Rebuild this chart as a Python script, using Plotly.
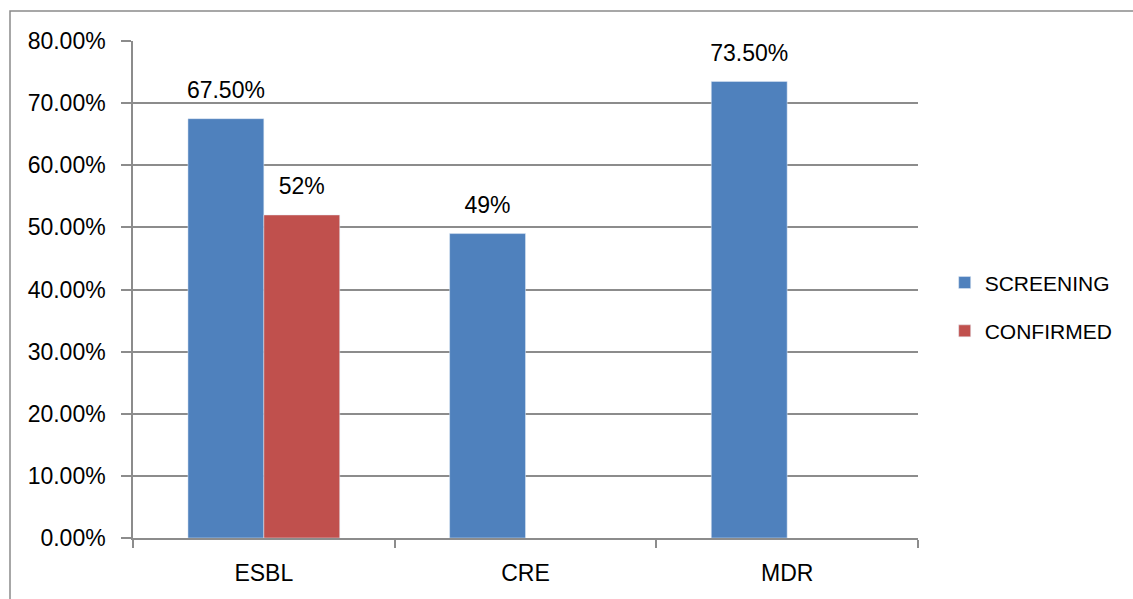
import plotly.graph_objects as go

# Resistance categories and percentages per test stage
categories = ["ESBL", "CRE", "MDR"]
screening = [0.675, 0.49, 0.735]
confirmed = [0.52, None, None]
screening_labels = ["67.50%", "49%", "73.50%"]
confirmed_labels = ["52%", "", ""]
y_ticks = [0, 0.1, 0.2, 0.3, 0.4, 0.5, 0.6, 0.7, 0.8]

BLUE = "#4F81BD"
RED = "#C0504D"
GRID = "#8c8c8c"
FONT = "Liberation Sans"
FS = 23

W, H = 1133, 599
L, R, T, B = 133, 215, 41, 61
PW, PH = W - L - R, H - T - B

fig = go.Figure()

fig.add_trace(go.Bar(
    x=categories, y=screening, name="SCREENING",
    marker=dict(color=BLUE), offsetgroup="s", legendgroup="s",
))
fig.add_trace(go.Bar(
    x=categories, y=confirmed, name="CONFIRMED",
    marker=dict(color=RED), offsetgroup="c", legendgroup="c",
))

# value labels, grouped like the bars
for vals, labels, grp in ((screening, screening_labels, "s"), (confirmed, confirmed_labels, "c")):
    fig.add_trace(go.Scatter(
        x=categories, y=vals, text=labels, mode="markers+text",
        textposition="top center", marker=dict(size=22, opacity=0),
        textfont=dict(family=FONT, size=FS, color="black"),
        offsetgroup=grp, showlegend=False, hoverinfo="skip", cliponaxis=False,
    ))

# outer frame of the chart area
fig.add_shape(
    type="rect", xref="paper", yref="paper",
    x0=(10 - L) / PW, x1=(W + 20 - L) / PW,
    y0=-(H + 20 - T - PH) / PH, y1=(PH + T - 11) / PH,
    line=dict(color="#8a8a8a", width=1.5), fillcolor="rgba(0,0,0,0)", layer="below",
)

fig.update_layout(
    width=W, height=H,
    margin=dict(l=L, r=R, t=T, b=B, autoexpand=False),
    paper_bgcolor="white", plot_bgcolor="white",
    barmode="group", bargap=0.42, bargroupgap=0,
    scattermode="group", scattergap=0.42,
    font=dict(family=FONT, size=FS, color="black"),
    showlegend=True,
    legend=dict(
        x=1.034, xanchor="left", y=0.465, yanchor="middle",
        font=dict(family=FONT, size=21, color="black"),
        tracegroupgap=18, itemwidth=30,
    ),
    xaxis=dict(
        type="category", showgrid=False, showline=True, linecolor=GRID, linewidth=1.5,
        ticks="outside", tickson="boundaries", ticklen=8, tickcolor=GRID, tickwidth=1.5,
        ticklabelstandoff=14, tickfont=dict(family=FONT, size=FS),
    ),
    yaxis=dict(
        range=[0, 0.8], tickvals=y_ticks, tickformat=".2%",
        showgrid=True, gridcolor=GRID, gridwidth=1.5,
        showline=True, linecolor=GRID, linewidth=1.5,
        ticks="outside", ticklen=10, tickcolor=GRID, tickwidth=1.5,
        ticklabelstandoff=11, tickfont=dict(family=FONT, size=FS),
        zeroline=False,
    ),
)

fig.write_html("out.html")
